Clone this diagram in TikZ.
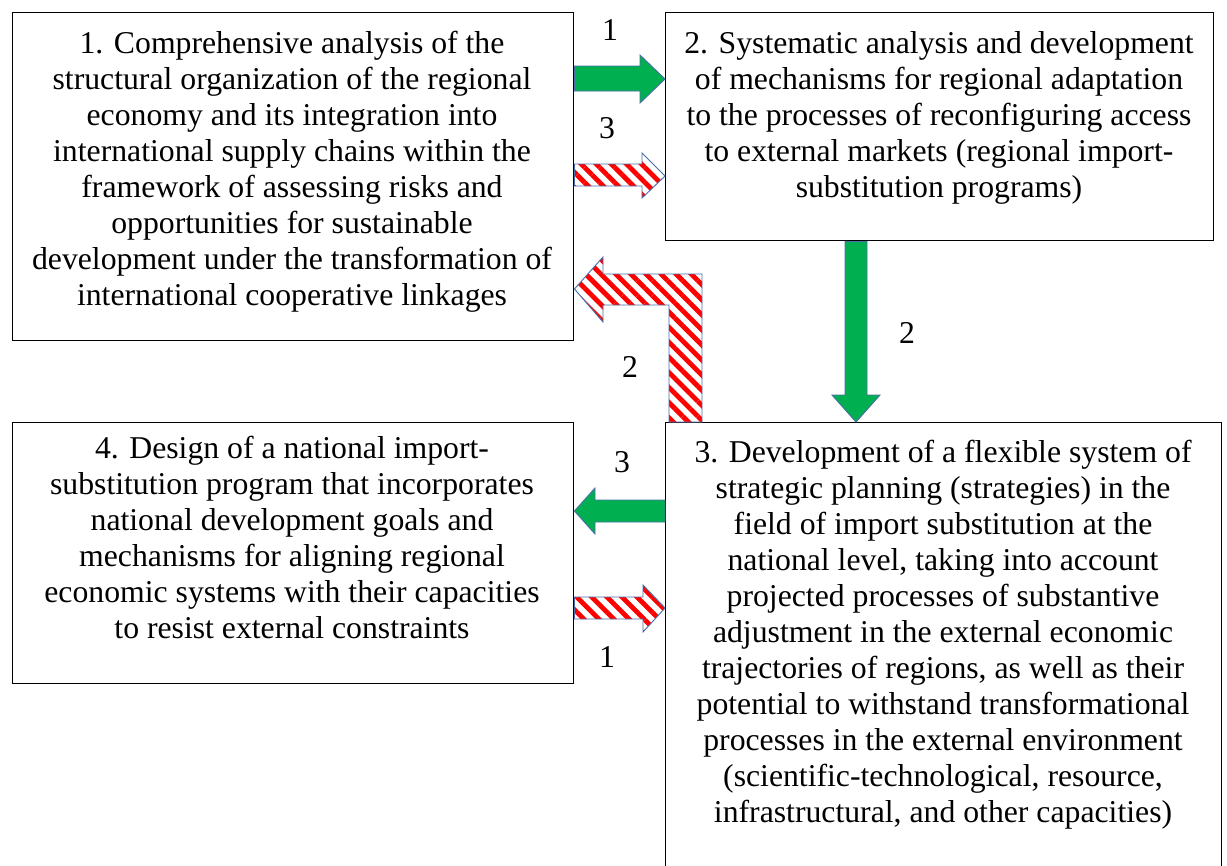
\documentclass[tikz,border=0pt]{standalone}
\usepackage{fontspec}
\setmainfont{Liberation Serif}
\usetikzlibrary{patterns.meta}
\definecolor{offgreen}{HTML}{00B050}
\definecolor{offblue}{HTML}{4A6FA8}
\tikzset{
  box/.style={draw=black, line width=1.1pt, fill=white, rectangle, inner sep=0pt, anchor=north west},
  txt/.style={align=center, inner sep=0pt, font=\fontsize{23.8}{27}\selectfont},
  lbl/.style={inner sep=0pt, font=\fontsize{23.8}{27}\selectfont},
  garrow/.style={fill=offgreen, draw=offblue, line width=0.7pt, line join=miter},
  harrow/.style={preaction={fill=white}, pattern={Lines[angle=-45,distance=8pt,line width=3.6pt]}, pattern color=red, draw=offblue, line width=0.7pt, line join=miter}
}
\begin{document}
\begin{tikzpicture}[x=0.75pt,y=-0.75pt]
\clip (0,0) rectangle (1227,865);
\fill[white] (0,0) rectangle (1227,865);
% boxes
\node[box, minimum width=420.75pt, minimum height=246pt] (b1) at (12,12) {};
\node[box, minimum width=411pt, minimum height=171pt] (b2) at (665,12) {};
\node[box, minimum width=417pt, minimum height=345pt] (b3) at (665,422) {};
\node[box, minimum width=420.75pt, minimum height=195.75pt] (b4) at (12,422) {};
% texts
\node[txt] (t1) at (292,172) {1. Comprehensive analysis of the\\structural organization of the regional\\economy and its integration into\\international supply chains within the\\framework of assessing risks and\\opportunities for sustainable\\development under the transformation of\\international cooperative linkages};
\node[txt] (t2) at (939,118) {2. Systematic analysis and development\\of mechanisms for regional adaptation\\to the processes of reconfiguring access\\to external markets (regional import-\\substitution programs)};
\node[txt] (t3) at (943,635) {3. Development of a flexible system of\\strategic planning (strategies) in the\\field of import substitution at the\\national level, taking into account\\projected processes of substantive\\adjustment in the external economic\\trajectories of regions, as well as their\\potential to withstand transformational\\processes in the external environment\\(scientific-technological, resource,\\infrastructural, and other capacities)};
\node[txt] (t4) at (292,537) {4. Design of a national import-\\substitution program that incorporates\\national development goals and\\mechanisms for aligning regional\\economic systems with their capacities\\to resist external constraints};
% arrow 1 -> 2 (green)
\draw[garrow] (b1.east |- 0,66) -- (640,66) -- (640,55) -- (b2.west |- 0,79) -- (640,103) -- (640,91) -- (b1.east |- 0,91) -- cycle;
% arrow 1 -> 2 (hatched)
\draw[harrow] (b1.east |- 0,164) -- (642,164) -- (642,153) -- (b2.west |- 0,176) -- (642,198) -- (642,186) -- (b1.east |- 0,186) -- cycle;
% L arrow 3 -> 1 (hatched)
\draw[harrow] (669,0 |- b3.north) -- (669,305) -- (603,305) -- (603,322) -- (b1.east |- 0,289) -- (603,257) -- (603,274) -- (702,274) -- (702,0 |- b3.north) -- cycle;
% green down 2 -> 3
\draw[garrow] (845,0 |- b2.south) -- (845,395) -- (832,395) -- (856,0 |- b3.north) -- (880,395) -- (867,395) -- (867,0 |- b2.south) -- cycle;
% green left 3 -> 4
\draw[garrow] (b3.west |- 0,500) -- (595,500) -- (595,488) -- (b4.east |- 0,511) -- (595,534) -- (595,522) -- (b3.west |- 0,522) -- cycle;
% hatched right 4 -> 3
\draw[harrow] (b4.east |- 0,597) -- (643,597) -- (643,585) -- (b3.west |- 0,608) -- (643,632) -- (643,619) -- (b4.east |- 0,619) -- cycle;
% labels
\node[lbl] (l1) at (610,30) {1};
\node[lbl] (l2) at (607,128) {3};
\node[lbl] (l3) at (630,367) {2};
\node[lbl] (l4) at (907,333) {2};
\node[lbl] (l5) at (622,462) {3};
\node[lbl] (l6) at (607,657) {1};
\end{tikzpicture}
\end{document}
